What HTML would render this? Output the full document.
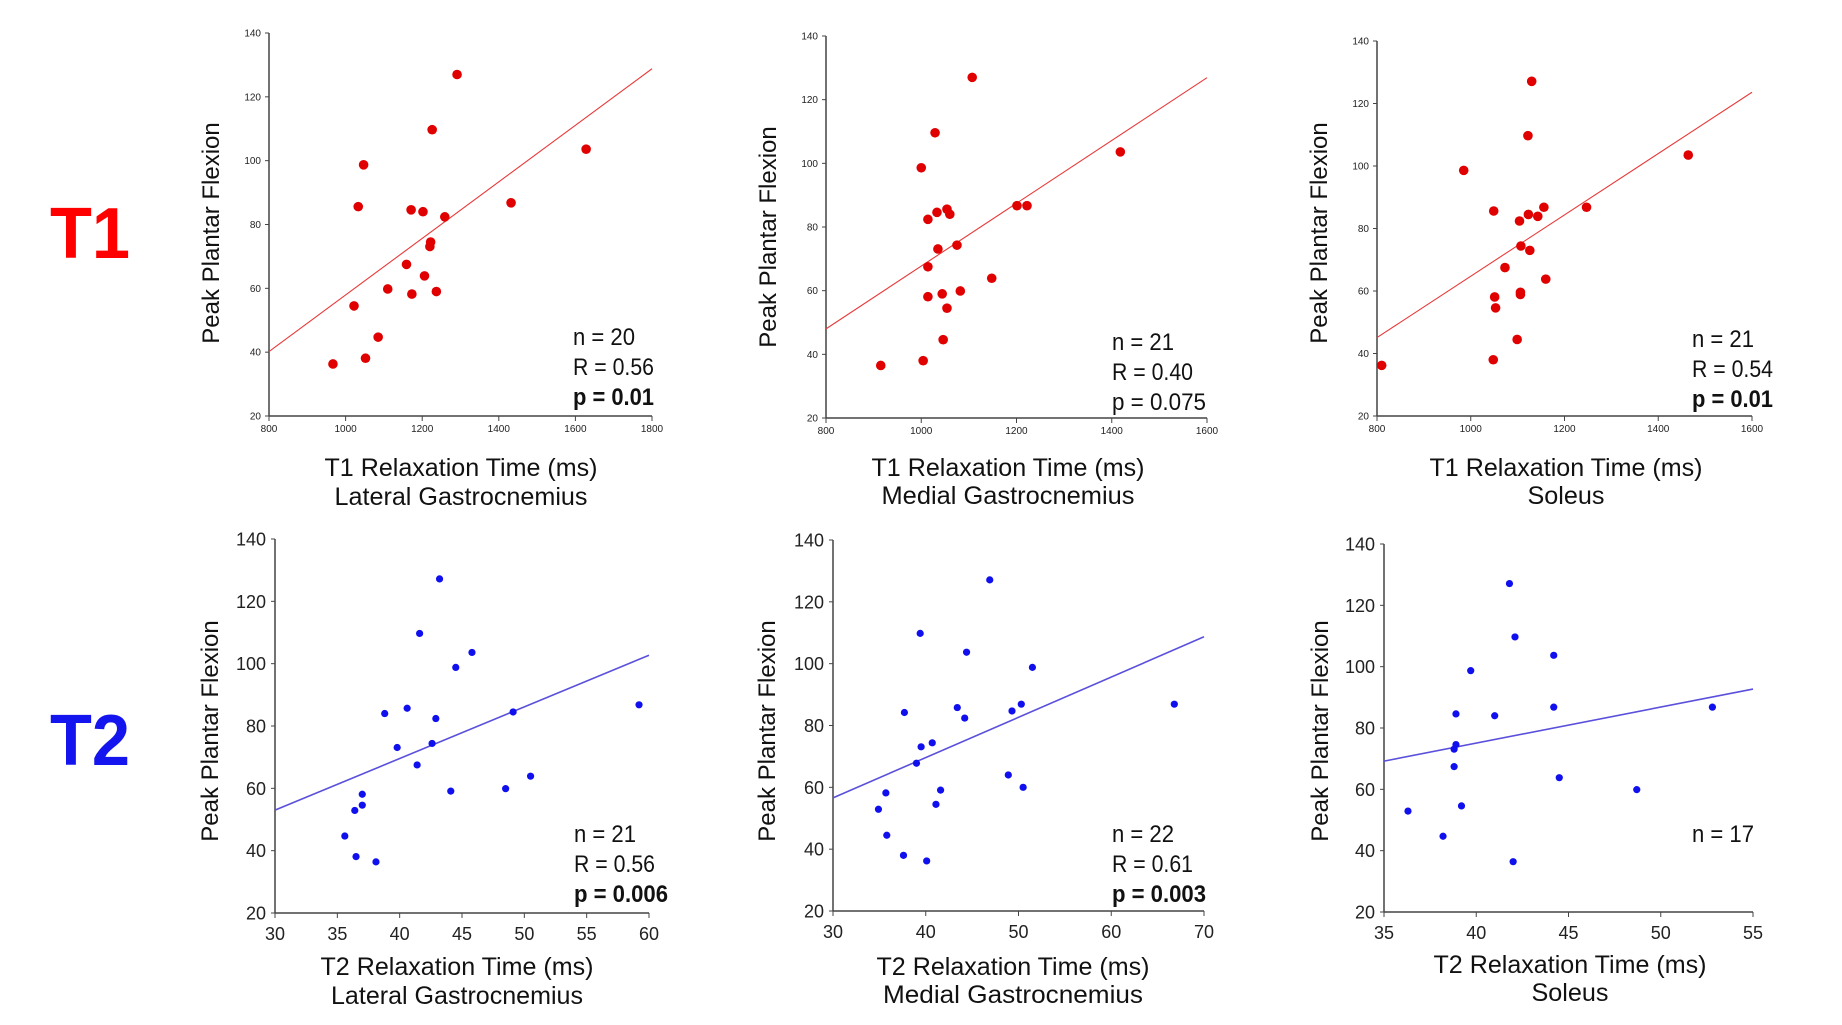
<!DOCTYPE html>
<html><head><meta charset="utf-8"><style>
html,body{margin:0;padding:0;background:#fff;}
svg{display:block;font-family:"Liberation Sans",Arial,sans-serif;}
</style></head><body>
<svg id="fig" width="1842" height="1025" viewBox="0 0 1842 1025" xmlns="http://www.w3.org/2000/svg">
<text x="50" y="258" font-size="72" font-weight="bold" fill="#ff0000" textLength="80" lengthAdjust="spacingAndGlyphs">T1</text>
<text x="50" y="765" font-size="72" font-weight="bold" fill="#1414ee" textLength="80" lengthAdjust="spacingAndGlyphs">T2</text>
</svg>
<script>
// ---- data ----
const p1X=[967,1022,1033,1047,1052,1085,1110,1159,1171,1173,1202,1206,1222,1220,1226,1237,1259,1291,1432,1628];
const p1Y=[36.3,54.5,85.6,98.7,38.1,44.7,59.8,67.5,84.6,58.2,84.0,63.9,74.5,73.1,109.7,59.0,82.4,127.0,86.8,103.6];
const p1Fit=[40.2,128.8];
const p1Stats=["n = 20","R = 0.56","p = 0.01"];

const p2X=[915,1107,1029,1000,1014,1033,1054,1060,1035,1075,1014,1014,1044,1082,1054,1046,1004,1148,1201,1222,1418];
const p2Y=[36.5,127.0,109.6,98.6,82.4,84.6,85.6,84.0,73.1,74.3,67.5,58.1,59.0,59.9,54.5,44.6,38.0,63.9,86.7,86.7,103.6];
const p2Fit=[48.0,126.9];
const p2Stats=["n = 21","R = 0.40","p = 0.075"];

const p3X=[810,985,1049,1048,1051,1053,1073,1099,1104,1107,1106,1106,1122,1123,1126,1130,1143,1156,1160,1247,1464];
const p3Y=[36.2,98.6,85.6,38.0,58.1,54.6,67.5,44.5,82.4,74.4,59.6,58.9,109.7,84.5,73.0,127.1,83.9,86.8,63.8,86.8,103.5];
const p3Fit=[45.1,123.6];
const p3Stats=["n = 21","R = 0.54","p = 0.01"];

const p4X=[35.6,36.4,36.5,37.0,37.0,38.1,38.8,39.8,40.6,41.4,41.6,42.6,42.9,43.2,44.1,44.5,45.8,48.5,49.1,50.5,59.2];
const p4Y=[44.7,52.9,38.1,54.6,58.1,36.4,84.0,73.1,85.7,67.5,109.7,74.4,82.4,127.2,59.1,98.8,103.6,59.9,84.5,63.9,86.8];
const p4Fit=[53.0,102.7];
const p4Stats=["n = 21","R = 0.56","p = 0.006"];

const p5X=[34.9,35.7,35.8,37.7,37.6,39.0,39.4,39.5,40.1,40.7,41.1,41.6,43.4,44.2,44.4,46.9,48.9,49.3,50.3,50.5,51.5,66.8];
const p5Y=[52.9,58.2,44.5,84.2,38.0,67.8,109.8,73.1,36.2,74.4,54.5,59.1,85.8,82.4,103.7,127.1,64.0,84.7,86.9,60.0,98.8,86.9];
const p5Fit=[56.6,108.7];
const p5Stats=["n = 22","R = 0.61","p = 0.003"];

const p6X=[36.3,38.2,38.8,38.8,38.9,38.9,39.2,39.7,41.0,41.8,42.0,42.1,44.2,44.2,44.5,48.7,52.8];
const p6Y=[52.9,44.7,73.1,67.4,84.6,74.6,54.6,98.7,84.0,127.1,36.4,109.7,103.7,86.8,63.8,59.9,86.8];
const p6Fit=[69.2,92.7];
const p6Stats=["n = 17"];

const t1XTicks=[[800,1000,1200,1400,1600,1800],[800,1000,1200,1400,1600],[800,1000,1200,1400,1600]];
const t2XTicks=[[30,35,40,45,50,55,60],[30,40,50,60,70],[35,40,45,50,55]];
const yTicks=[20,40,60,80,100,120,140];
const xTitles=["T1 Relaxation Time (ms)","T2 Relaxation Time (ms)"];
const muscles=["Lateral Gastrocnemius","Medial Gastrocnemius","Soleus"];

// ---- layout (geometry only) ----
const NS="http://www.w3.org/2000/svg";
const svg=document.getElementById('fig');
function mk(tag,attrs,parent){const e=document.createElementNS(NS,tag);for(const k in attrs)e.setAttribute(k,attrs[k]);(parent||svg).appendChild(e);return e;}

const panels=[
 {id:'t1-lateral',x0:269,x1:652,yTop:33,yBot:416,xs:t1XTicks[0],X:p1X,Y:p1Y,fit:p1Fit,stats:p1Stats,boldP:true,c:'#e00000',line:'#e83a3a',r:4.8,small:true,statX:573,statY:345,titles:[xTitles[0],muscles[0]],tc:461,tb:[476,505],tw:[273,253],yt:[211,233]},
 {id:'t1-medial',x0:826,x1:1207,yTop:36,yBot:418,xs:t1XTicks[1],X:p2X,Y:p2Y,fit:p2Fit,stats:p2Stats,boldP:false,c:'#e00000',line:'#e83a3a',r:4.8,small:true,statX:1112,statY:350,titles:[xTitles[0],muscles[1]],tc:1008,tb:[476,504],tw:[273,253],yt:[768,237]},
 {id:'t1-soleus',x0:1377,x1:1752,yTop:41,yBot:416,xs:t1XTicks[2],X:p3X,Y:p3Y,fit:p3Fit,stats:p3Stats,boldP:true,c:'#e00000',line:'#e83a3a',r:4.8,small:true,statX:1692,statY:347,titles:[xTitles[0],muscles[2]],tc:1566,tb:[476,504],tw:[273,77],yt:[1319,233]},
 {id:'t2-lateral',x0:275,x1:649,yTop:539,yBot:913,xs:t2XTicks[0],X:p4X,Y:p4Y,fit:p4Fit,stats:p4Stats,boldP:true,c:'#1010ee',line:'#5a50dc',r:3.6,small:false,statX:574,statY:842,titles:[xTitles[1],muscles[0]],tc:457,tb:[975,1004],tw:[273,252],yt:[210,731]},
 {id:'t2-medial',x0:833,x1:1204,yTop:540,yBot:911,xs:t2XTicks[1],X:p5X,Y:p5Y,fit:p5Fit,stats:p5Stats,boldP:true,c:'#1010ee',line:'#5a50dc',r:3.6,small:false,statX:1112,statY:842,titles:[xTitles[1],muscles[1]],tc:1013,tb:[975,1003],tw:[273,260],yt:[767,731]},
 {id:'t2-soleus',x0:1384,x1:1753,yTop:544,yBot:912,xs:t2XTicks[2],X:p6X,Y:p6Y,fit:p6Fit,stats:p6Stats,boldP:false,c:'#1010ee',line:'#5a50dc',r:3.6,small:false,statX:1692,statY:842,titles:[xTitles[1],muscles[2]],tc:1570,tb:[973,1001],tw:[273,77],yt:[1320,731]}
];

panels.forEach(p=>{
  const g=mk('g',{});
  
  
  const xmin=p.xs[0],xmax=p.xs[p.xs.length-1];
  const sx=v=>p.x0+(v-xmin)/(xmax-xmin)*(p.x1-p.x0);
  const sy=v=>p.yBot-(v-20)/(140-20)*(p.yBot-p.yTop);
  const fs=p.small?10:18;
  // axes
  const ya=mk('line',{x1:p.x0,y1:p.yTop,x2:p.x0,y2:p.yBot,stroke:'#444',"stroke-width":1.5},g);
  
  
  const xa=mk('line',{x1:p.x0,y1:p.yBot,x2:p.x1,y2:p.yBot,stroke:'#444',"stroke-width":1.5},g);
  
  
  yTicks.forEach(t=>{
    const y=sy(t);
    mk('line',{x1:p.x0-4,y1:y,x2:p.x0,y2:y,stroke:'#444',"stroke-width":1},g);
    const tx=mk('text',{x:p.x0-(p.small?8:9),y:y+(p.small?3.5:6.5),"font-size":fs,"text-anchor":"end",fill:'#222'},g);
    tx.textContent=t;
    
    
  });
  p.xs.forEach(t=>{
    const x=sx(t);
    mk('line',{x1:x,y1:p.yBot,x2:x,y2:p.yBot+5,stroke:'#444',"stroke-width":1},g);
    const tx=mk('text',{x:x,y:p.yBot+(p.small?16:27),"font-size":fs,"text-anchor":"middle",fill:'#222'},g);
    tx.textContent=t;
    
    
  });
  // fit line
  const fl=mk('line',{x1:sx(xmin),y1:sy(p.fit[0]),x2:sx(xmax),y2:sy(p.fit[1]),stroke:p.line,"stroke-width":p.small?1.1:1.6},g);
  
  
  // points
  p.X.forEach((v,i)=>{
    const c=mk('circle',{cx:sx(v),cy:sy(p.Y[i]),r:p.r,fill:p.c},g);
    
    
  });
  // y title
  const yt=mk('text',{x:0,y:0,"font-size":24,"text-anchor":"middle",fill:'#111',transform:`translate(${p.yt[0]+8},${p.yt[1]}) rotate(-90)`},g);
  yt.textContent='Peak Plantar Flexion';
  
  
  // x titles
  p.titles.forEach((s,i)=>{
    const t=mk('text',{x:p.tc,y:p.tb[i],"font-size":25,"text-anchor":"middle",fill:'#111',textLength:p.tw[i],lengthAdjust:'spacingAndGlyphs'},g);
    t.textContent=s;
    
    
  });
  // stats
  p.stats.forEach((s,i)=>{
    const bold=(i===2&&p.boldP);
    const w=s.length<=6?62:(s.length<=8?81:94);
    const t=mk('text',{x:p.statX,y:p.statY+i*30,"font-size":24,fill:'#111',"font-weight":bold?'bold':'normal',textLength:w,lengthAdjust:'spacingAndGlyphs'},g);
    t.textContent=s;
    
    
  });
});
</script>
</body></html>
